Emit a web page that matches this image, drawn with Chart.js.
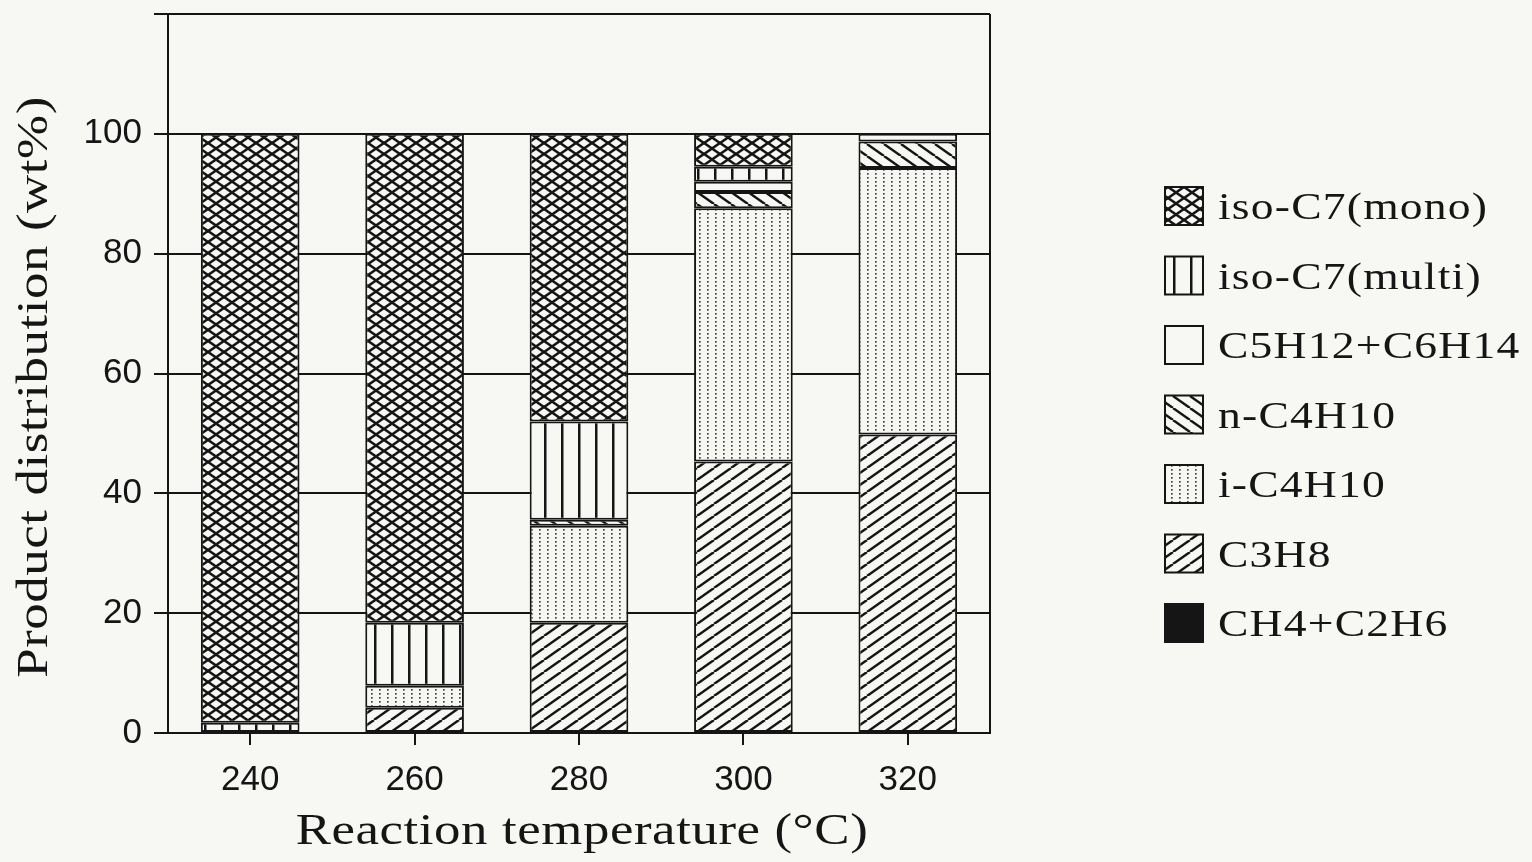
<!DOCTYPE html>
<html>
<head>
<meta charset="utf-8">
<script src="https://cdn.jsdelivr.net/npm/chart.js@4.4.1/dist/chart.umd.min.js"></script>
<style>
    html, body { margin: 0; padding: 0; background: #f7f7f4; }
    #wrap { position: relative; width: 1532px; height: 862px; }
</style>
</head>
<body>
<div id="wrap"><canvas id="chart"></canvas></div>
<script>
const temperatures = ['240', '260', '280', '300', '320']
const yTicks = [0, 20, 40, 60, 80, 100]

// wt% per temperature, stacked from the bottom up
const ch4c2h6 = [0, 0, 0, 0, 0]
const c3h8 = [0, 4.2, 18.4, 45.3, 49.8]
const iC4h10 = [0, 3.7, 16.2, 42.3, 44.5]
const nC4h10 = [0, 0, 1.0, 2.7, 4.4]
const c5c6 = [0, 0, 0, 1.7, 1.3]
const isoC7multi = [1.7, 10.5, 16.4, 2.5, 0]
const isoC7mono = [98.3, 81.6, 48.0, 5.5, 0]

const paper = '#f7f7f4'
const ink = '#151515'

function makePattern(w, h, draw) {
    const c = document.createElement('canvas')
    c.width = w
    c.height = h
    const g = c.getContext('2d')
    g.fillStyle = paper
    g.fillRect(0, 0, w, h)
    g.strokeStyle = ink
    g.fillStyle = ink
    draw(g, w, h)
    return g.createPattern(c, 'repeat')
}

function line(g, x1, y1, x2, y2) {
    g.beginPath()
    g.moveTo(x1, y1)
    g.lineTo(x2, y2)
    g.stroke()
}

const patCross = makePattern(16, 11, (g, w, h) => {
    g.lineWidth = 2.6
    for (const dx of [-w, 0, w]) {
        line(g, dx, 0, dx + w, h)
        line(g, dx, h, dx + w, 0)
    }
})
const patVert = makePattern(17, 4, (g, w, h) => {
    g.fillRect(0, 0, 2.5, h)
})
const patBlank = makePattern(4, 4, () => {})
const patBack = makePattern(17, 12, (g, w, h) => {
    g.lineWidth = 2.4
    for (const dx of [-w, 0, w]) line(g, dx, 0, dx + w, h)
})
const patDots = makePattern(8, 4, (g) => {
    g.fillStyle = '#444'
    g.fillRect(3, 1, 1.7, 1.7)
})
const patFwd = makePattern(17, 12, (g, w, h) => {
    g.lineWidth = 2.4
    for (const dx of [-w, 0, w]) line(g, dx, h, dx + w, 0)
})

const series = [
    { label: 'CH4+C2H6', data: ch4c2h6, fill: ink },
    { label: 'C3H8', data: c3h8, fill: patFwd },
    { label: 'i-C4H10', data: iC4h10, fill: patDots },
    { label: 'n-C4H10', data: nC4h10, fill: patBack },
    { label: 'C5H12+C6H14', data: c5c6, fill: patBlank },
    { label: 'iso-C7(multi)', data: isoC7multi, fill: patVert },
    { label: 'iso-C7(mono)', data: isoC7mono, fill: patCross }
]

// the scanned lettering is wide, so text is stretched a little sideways
function wideText(ctx, text, x, y, align, sx) {
    ctx.save()
    ctx.translate(x, y)
    ctx.scale(sx, 1)
    ctx.textAlign = align
    ctx.fillText(text, 0, 0)
    ctx.restore()
}

const paperPlugin = {
    id: 'paper',
    beforeDraw(chart) {
        const ctx = chart.ctx
        ctx.save()
        ctx.fillStyle = paper
        ctx.fillRect(0, 0, chart.width, chart.height)
        ctx.restore()
    },
    afterDraw(chart) {
        const ctx = chart.ctx
        const area = chart.chartArea
        ctx.save()
        ctx.strokeStyle = ink
        ctx.lineWidth = 2
        line(ctx, area.right, area.top, area.right, area.bottom)

        ctx.fillStyle = ink
        ctx.font = '44px "Liberation Serif"'
        ctx.letterSpacing = '0.5px'
        ctx.textBaseline = 'alphabetic'
        wideText(ctx, 'Reaction temperature (°C)', (area.left + area.right) / 2 + 3, 844, 'center', 1.2)
        ctx.save()
        ctx.translate(47, 387)
        ctx.rotate(-Math.PI / 2)
        wideText(ctx, 'Product distribution (wt%)', 0, 0, 'center', 1.2)
        ctx.restore()

        ctx.font = '38px "Liberation Serif"'
        ctx.letterSpacing = '1px'
        const items = series.slice().reverse()
        items.forEach((s, i) => {
            const cy = 206 + i * 69.5
            ctx.fillStyle = s.fill
            ctx.fillRect(1165, cy - 19, 38, 38)
            ctx.lineWidth = 2
            ctx.strokeRect(1165, cy - 19, 38, 38)
            ctx.fillStyle = ink
            wideText(ctx, s.label, 1218, cy + 13, 'left', 1.2)
        })
        ctx.restore()
    }
}

new Chart(document.getElementById('chart'), {
    type: 'bar',
    data: {
        labels: temperatures,
        datasets: series.map((s) => ({
            label: s.label,
            data: s.data.map((v) => v > 0 ? v : null),
            backgroundColor: s.fill,
            borderColor: ink,
            borderWidth: 2,
            borderSkipped: false,
            barPercentage: 0.6,
            categoryPercentage: 1
        }))
    },
    options: {
        responsive: true,
        maintainAspectRatio: false,
        animation: false,
        layout: { padding: { top: 14, right: 542, bottom: 0, left: 0 } },
        plugins: {
            legend: { display: false },
            tooltip: { enabled: false }
        },
        scales: {
            x: {
                stacked: true,
                grid: { display: true, drawOnChartArea: false, offset: false, color: ink, lineWidth: 2, tickLength: 12 },
                border: { color: ink, width: 2 },
                ticks: { color: ink, padding: 14, font: { family: '"Liberation Sans"', size: 35 } },
                afterFit: (s) => { s.height = 129; s.paddingLeft = 0; s.paddingRight = 0 }
            },
            y: {
                stacked: true,
                min: 0,
                max: 120,
                afterBuildTicks: (s) => { s.ticks = yTicks.concat([120]).map((v) => ({ value: v })) },
                grid: { color: ink, lineWidth: 2, tickLength: 14 },
                border: { color: ink, width: 2 },
                ticks: {
                    color: ink,
                    padding: 12,
                    font: { family: '"Liberation Sans"', size: 35 },
                    callback: (v) => yTicks.includes(v) ? v : ''
                },
                afterFit: (s) => { s.width = 168; s.paddingTop = 0; s.paddingBottom = 0 }
            }
        }
    },
    plugins: [paperPlugin]
})
</script>
</body>
</html>
